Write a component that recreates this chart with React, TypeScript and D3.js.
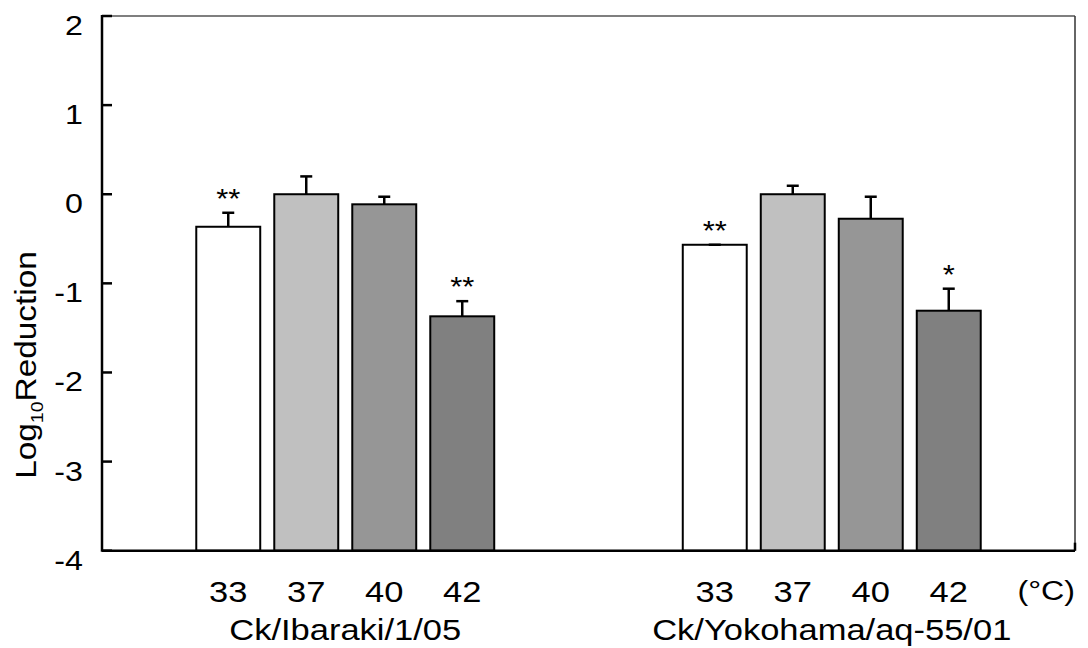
import * as d3 from "d3";
import React from "react";

// Data
const strains = ["Ck/Ibaraki/1/05", "Ck/Yokohama/aq-55/01"];
const temps = ["33", "37", "40", "42"];
const ibarakiMean = [-0.365, 0.0, -0.113, -1.37];
const ibarakiErr = [0.157, 0.2, 0.085, 0.17];
const yokohamaMean = [-0.567, 0.0, -0.275, -1.307];
const yokohamaErr = [0.0, 0.095, 0.247, 0.247];
const ibarakiSig = ["**", "", "", "**"];
const yokohamaSig = ["**", "", "", "*"];
const yTicks = [-4, -3, -2, -1, 0, 1, 2];
const barFills = ["#ffffff", "#c0c0c0", "#969696", "#808080"];

const FONT = "'Liberation Sans', Arial, Helvetica, sans-serif";
const SX = 1.15; // the source font is a bit wider than Arial

export default function App() {
  const width = 1088;
  const height = 648;
  const left = 102;
  const right = 1075;
  const top = 16;
  const bottom = 550.7;

  const y = d3.scaleLinear().domain([-4, 2]).range([bottom, top]);
  const x0 = d3.scaleBand<string>().domain(strains).range([left, right]);
  const x1 = d3
    .scaleBand<string>()
    .domain(temps)
    .range([-156, 156])
    .paddingInner(0.18)
    .paddingOuter(0.09);

  const groups = [
    { name: strains[0], mean: ibarakiMean, err: ibarakiErr, sig: ibarakiSig },
    { name: strains[1], mean: yokohamaMean, err: yokohamaErr, sig: yokohamaSig },
  ];

  const txt = (x: number, yy: number, s: string, size: number, anchor = "middle") => (
    <text
      transform={`translate(${x},${yy}) scale(${SX},1)`}
      textAnchor={anchor}
      fontSize={size}
      fontFamily={FONT}
      fill="#000"
    >
      {s}
    </text>
  );

  return (
    <svg
      width={width}
      height={height}
      style={{ position: "absolute", left: 0, top: 0, background: "#fff" }}
    >
      {/* frame */}
      <line x1={left} x2={right} y1={top} y2={top} stroke="#555" strokeWidth={1.5} />
      <line x1={right} x2={right} y1={top} y2={bottom} stroke="#333" strokeWidth={1.5} />
      <line x1={right} x2={right} y1={bottom - 8} y2={bottom} stroke="#000" strokeWidth={2.5} />

      {/* bars */}
      {groups.map((g) => {
        const gx = x0(g.name)! + x0.bandwidth() / 2;
        return (
          <g key={g.name}>
            {temps.map((t, i) => {
              const bx = gx + x1(t)!;
              const bw = x1.bandwidth();
              const cx = bx + bw / 2;
              const yTop = y(g.mean[i]);
              const yErr = y(g.mean[i] + g.err[i]);
              return (
                <g key={t}>
                  <rect
                    x={bx}
                    y={yTop}
                    width={bw}
                    height={bottom - yTop}
                    fill={barFills[i]}
                    stroke="#000"
                    strokeWidth={2}
                  />
                  {g.err[i] > 0 && (
                    <line x1={cx} x2={cx} y1={yTop} y2={yErr} stroke="#000" strokeWidth={2.5} />
                  )}
                  <line x1={cx - 6} x2={cx + 6} y1={yErr} y2={yErr} stroke="#000" strokeWidth={2.5} />
                  {g.sig[i] && txt(cx, yErr - 5, g.sig[i], 27)}
                  {txt(cx, 602, t, 30)}
                </g>
              );
            })}
            {txt(gx, 640, g.name, 30)}
          </g>
        );
      })}

      {/* axes */}
      <line x1={left} x2={right} y1={bottom} y2={bottom} stroke="#000" strokeWidth={2.5} />
      <line x1={left} x2={left} y1={top - 1} y2={bottom + 1} stroke="#000" strokeWidth={2.5} />
      {yTicks.map((v) => (
        <g key={v}>
          <line x1={left} x2={left + 10} y1={y(v)} y2={y(v)} stroke="#000" strokeWidth={2.5} />
          {txt(83, y(v) + 19, String(v), 28, "end")}
        </g>
      ))}

      {/* unit */}
      {txt(1075, 600, "(°C)", 28, "end")}

      {/* y title */}
      <text
        transform={`translate(36,365) rotate(-90) scale(${SX},1)`}
        textAnchor="middle"
        fontSize={29}
        fontFamily={FONT}
        fill="#000"
      >
        Log
        <tspan fontSize={17} dy={7}>
          10
        </tspan>
        <tspan dy={-7}>Reduction</tspan>
      </text>
    </svg>
  );
}
